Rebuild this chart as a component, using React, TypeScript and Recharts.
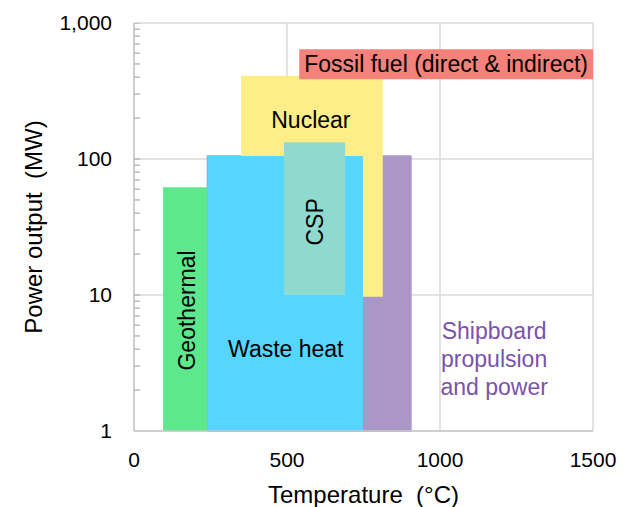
import React from "react";
import {
  ComposedChart,
  XAxis,
  YAxis,
  CartesianGrid,
  ReferenceArea,
  Scatter,
  Label,
} from "recharts";

const FONT = "'Liberation Sans', Arial, sans-serif";

// boxes, drawn back to front
const technologies = ["Shipboard", "Nuclear", "Waste heat", "CSP", "Geothermal", "Fossil fuel"];
const tempMin = [240, 350, 240, 490, 95, 540];
const tempMax = [905, 813, 748, 690, 240, 1500];
const powerMin = [1, 9.7, 1, 10, 1, 386];
const powerMax = [105, 410, 105, 133, 62, 640];
const boxColors = ["#AB96C8", "#FFEE88", "#55D5FF", "#8FD9CF", "#5EE88D", "#F4817A"];

// in-plot labels
const labelText = [
  "Shipboard\npropulsion\nand power",
  "Nuclear",
  "Waste heat",
  "CSP",
  "Geothermal",
  "Fossil fuel (direct & indirect)",
];
const labelTemp = [1177, 578, 496, 592, 174, 1020];
const labelPower = [3.37, 193, 4.0, 34.5, 7.7, 497];
const labelAngle = [0, 0, 0, -90, -90, 0];
const labelColor = ["#7B52AB", "#000", "#000", "#000", "#000", "#000"];

const xTicks = [0, 500, 1000, 1500];
const yTicks = [1, 10, 100, 1000];
const yMinorTicks = [
  2, 3, 4, 5, 6, 7, 8, 9,
  10, 20, 30, 40, 50, 60, 70, 80, 90,
  100, 200, 300, 400, 500, 600, 700, 800, 900, 1000,
];
const yDomain = [1, 1000];

const labels = labelText.map((text, i) => ({
  x: labelTemp[i],
  y: labelPower[i],
  text,
  angle: labelAngle[i],
  color: labelColor[i],
}));

// inward tick marks on the y axis, placed at x = 0 through the scales
const tickMarks = yMinorTicks.map((v) => ({ x: 0, y: v }));

const LabelShape = (props: any) => {
  const { cx, cy, payload } = props;
  const lines: string[] = payload.text.split("\n");
  const n = lines.length;
  return (
    <text
      x={cx}
      y={cy}
      fill={payload.color}
      fontSize={23}
      fontFamily={FONT}
      textAnchor="middle"
      transform={payload.angle ? `rotate(${payload.angle} ${cx} ${cy})` : undefined}
    >
      {lines.map((l, i) => (
        <tspan key={i} x={cx} y={cy + (i - (n - 1) / 2) * 28} dy="0.35em">
          {l}
        </tspan>
      ))}
    </text>
  );
};

const TickShape = (props: any) => {
  const { cx, cy } = props;
  return <line x1={cx} x2={cx + 6} y1={cy} y2={cy} stroke="#B3B3B3" strokeWidth={1.3} />;
};

// horizontal grid only on the decades
const gridRows = ({ yAxis, offset }: any) => {
  if (yAxis && typeof yAxis.scale === "function") return yTicks.map((t) => yAxis.scale(t));
  const lo = Math.log10(yDomain[0]);
  const hi = Math.log10(yDomain[1]);
  return yTicks.map(
    (t) => offset.top + offset.height * (1 - (Math.log10(t) - lo) / (hi - lo))
  );
};

export default function App() {
  return (
    <div style={{ position: "absolute", left: 0, top: 0, background: "#fff" }}>
      <ComposedChart
        width={623}
        height={507}
        data={labels}
        margin={{ top: 23, right: 30, bottom: 0, left: 0 }}
      >
        <CartesianGrid
          stroke="#D9D9D9"
          strokeWidth={1.5}
          horizontalCoordinatesGenerator={gridRows}
        />
        <XAxis
          type="number"
          dataKey="x"
          domain={[0, 1500]}
          ticks={xTicks}
          allowDataOverflow
          height={76}
          tickLine={false}
          tickSize={0}
          tickMargin={21}
          axisLine={{ stroke: "#C8C8C8", strokeWidth: 1.5 }}
          tick={{ fontSize: 21, fill: "#000", fontFamily: FONT }}
        >
          <Label
            content={({ viewBox }: any) => (
              <text
                x={viewBox.x + viewBox.width / 2}
                y={495}
                dy="0.35em"
                textAnchor="middle"
                fontSize={24}
                fontFamily={FONT}
                fill="#000"
                style={{ whiteSpace: "pre" }}
              >
                {"Temperature  (°C)"}
              </text>
            )}
          />
        </XAxis>
        <YAxis
          type="number"
          dataKey="y"
          scale="log"
          domain={yDomain}
          ticks={yTicks}
          allowDataOverflow
          width={134}
          tickLine={false}
          tickSize={0}
          tickMargin={22}
          axisLine={{ stroke: "#C8C8C8", strokeWidth: 1.5 }}
          tick={{ fontSize: 21, fill: "#000", fontFamily: FONT }}
          tickFormatter={(v: number) => v.toLocaleString("en-US")}
        >
          <Label
            content={({ viewBox }: any) => {
              const cx = 34;
              const cy = viewBox.y + viewBox.height / 2;
              return (
                <text
                  x={cx}
                  y={cy}
                  dy="0.35em"
                  textAnchor="middle"
                  fontSize={24}
                  fontFamily={FONT}
                  fill="#000"
                  transform={`rotate(-90 ${cx} ${cy})`}
                  style={{ whiteSpace: "pre" }}
                >
                  {"Power output  (MW)"}
                </text>
              );
            }}
          />
        </YAxis>
        {technologies.map((t, i) => (
          <ReferenceArea
            key={t}
            x1={tempMin[i]}
            x2={tempMax[i]}
            y1={powerMin[i]}
            y2={powerMax[i]}
            fill={boxColors[i]}
            fillOpacity={1}
            stroke={i === 0 ? boxColors[i] : "none"}
            strokeWidth={1.5}
            ifOverflow="visible"
          />
        ))}
        <Scatter data={tickMarks} shape={TickShape} isAnimationActive={false} />
        <Scatter data={labels} shape={LabelShape} isAnimationActive={false} />
      </ComposedChart>
    </div>
  );
}
